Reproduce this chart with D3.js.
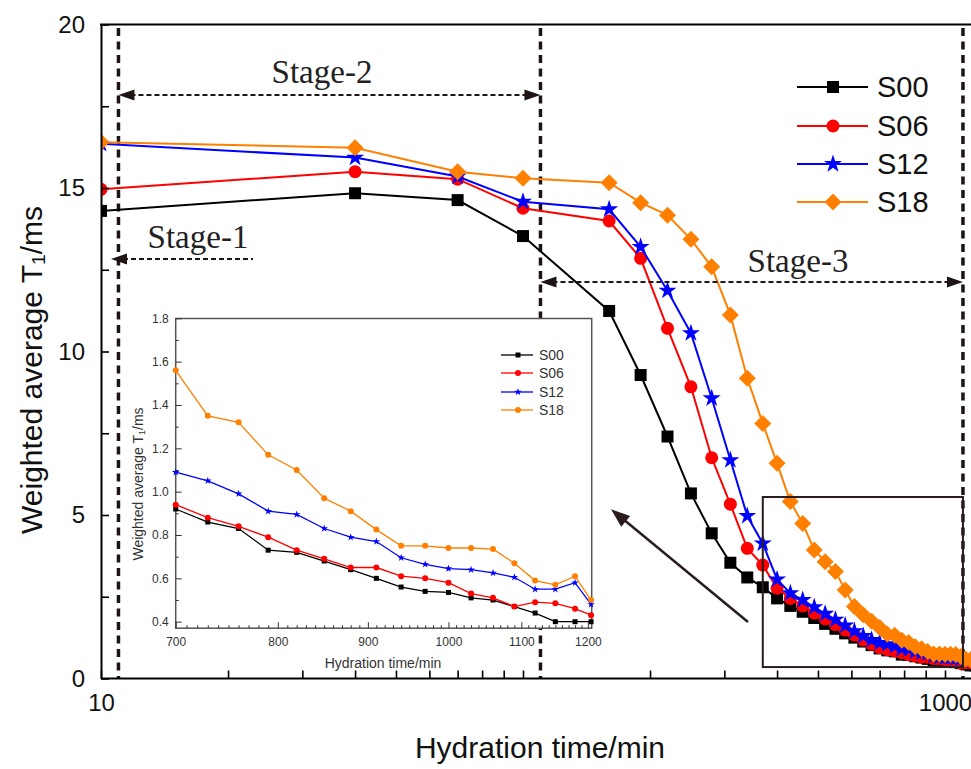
<!DOCTYPE html>
<html><head><meta charset="utf-8">
<script src="https://cdn.jsdelivr.net/npm/d3@7"></script>
<style>body{margin:0;background:#fff}svg{display:block}</style>
</head><body><svg id="c" width="971" height="769"></svg>
<script>
// ---------------- DATA ----------------
const times = [10,40,70,100,160,190,220,250,280,310,340,370,400,430,460,490,520,550,580,610,640,670,
  700,730,760,790,820,850,880,910,940,970,1000,1030,1060,1090,1120,1150,1180,1205];
const S00 = [14.30,14.84,14.63,13.53,11.24,9.28,7.40,5.66,4.44,3.54,3.09,2.79,2.45,2.22,2.04,1.85,1.67,1.52,1.38,1.25,1.13,1.02,
  0.92,0.86,0.83,0.73,0.72,0.68,0.64,0.60,0.56,0.54,0.535,0.51,0.50,0.47,0.44,0.40,0.40,0.40];
const S06 = [14.96,15.50,15.27,14.38,13.99,12.85,10.71,8.92,6.75,5.33,3.98,3.47,2.76,2.45,2.22,2.00,1.82,1.65,1.48,1.33,1.18,1.05,
  0.94,0.88,0.84,0.79,0.73,0.69,0.65,0.65,0.61,0.60,0.58,0.53,0.51,0.47,0.49,0.485,0.46,0.43];
const S12 = [16.35,15.93,15.35,14.58,14.35,13.20,11.86,10.56,8.57,6.68,4.97,4.13,3.03,2.61,2.40,2.18,1.98,1.80,1.62,1.45,1.30,1.18,
  1.09,1.05,0.99,0.91,0.895,0.83,0.79,0.77,0.695,0.665,0.645,0.64,0.625,0.605,0.55,0.55,0.58,0.48];
const S18 = [16.40,16.23,15.50,15.30,15.16,14.55,14.17,13.43,12.59,11.12,9.18,7.80,6.58,5.41,4.74,3.93,3.57,3.27,2.71,2.20,1.95,1.75,
  1.56,1.35,1.32,1.17,1.10,0.97,0.91,0.825,0.75,0.75,0.74,0.74,0.735,0.67,0.59,0.57,0.61,0.50];
const seriesNames = ["S00","S06","S12","S18"];
const seriesValues = [S00,S06,S12,S18];
const seriesColors = ["#000000","#FF0000","#0000FF","#FF8000"];
const mainShapes = ["square","circle","star","diamond"];
const insetShapes = ["square","circle","star","circle"];
const mainYTickLabels = [0,5,10,15,20];
const mainXTickLabels = [10,1000];
const stageLines = [11,110,1103];          // times of the dashed stage borders
const stageNames = ["Stage-1","Stage-2","Stage-3"];
const insetStart = 700;
const insetXTickLabels = [700,800,900,1000,1100,1200];
const insetYTickLabels = [0.4,0.6,0.8,1.0,1.2,1.4,1.6,1.8];
const zoomBox = {t0:370, t1:1103, v0:0.35, v1:5.55};

// ---------------- HELPERS ----------------
const svg = d3.select("#c");
const SANS = "'Liberation Sans', Arial, sans-serif";
const SERIF = "'Liberation Serif', 'Times New Roman', serif";
function marker(g, type, size, x, y, color){
  let p, rot = 0;
  if(type==="square") p = d3.symbol(d3.symbolSquare, size*size)();
  else if(type==="circle") p = d3.symbol(d3.symbolCircle, Math.PI*(size/2)*(size/2))();
  else if(type==="star") p = d3.symbol(d3.symbolStar, (size/2)*(size/2)/0.8908130915292852)();
  else { p = d3.symbol(d3.symbolSquare, (size/Math.SQRT2)*(size/Math.SQRT2))(); rot = 45; }
  g.append("path").attr("d", p).attr("fill", color)
    .attr("transform", `translate(${x},${y}) rotate(${rot})`);
}
const mainSizes = {square:12, circle:13, star:19, diamond:17};
const insetSizes = {square:5, circle:6, star:8, diamond:7};

// ---------------- MAIN CHART ----------------
const x = d3.scaleLog().domain([10,1000]).range([101,945]);
const y = d3.scaleLinear().domain([0,20]).range([678.5,24.5]);

svg.append("defs").append("clipPath").attr("id","mainClip")
  .append("rect").attr("x",101).attr("y",0).attr("width",870).attr("height",679);

// stage dashed verticals
stageLines.forEach(t=>{
  svg.append("line").attr("x1",x(t)).attr("x2",x(t)).attr("y1",28).attr("y2",678)
    .attr("stroke","#1e1414").attr("stroke-width",3.5).attr("stroke-dasharray","8,5.5");
});

// data
const plot = svg.append("g").attr("clip-path","url(#mainClip)");
const line = d3.line().x((d,i)=>x(times[i])).y(d=>y(d));
seriesValues.forEach((vals,k)=>{
  plot.append("path").attr("d", line(vals)).attr("fill","none")
    .attr("stroke", seriesColors[k]).attr("stroke-width",2);
  vals.forEach((v,i)=> marker(plot, mainShapes[k], mainSizes[mainShapes[k]], x(times[i]), y(v), seriesColors[k]));
});

// axes
const xMinor = [];
[10,100,1000].forEach(b=>{ for(let m=1;m<10;m++) xMinor.push(b*m); });
svg.append("g").attr("transform","translate(0,678.5)")
  .call(d3.axisBottom(x).tickValues(xMinor.filter(v=>x(v)<975)).tickSizeInner(-8).tickSizeOuter(0).tickPadding(15)
    .tickFormat(d=> mainXTickLabels.includes(d) ? d : ""))
  .call(g=>{ g.select(".domain").attr("d","M101,0H971").attr("stroke-width",2);
    g.selectAll(".tick line").attr("stroke-width",1.6);
    g.selectAll("text").attr("font-family",SANS).attr("font-size",24).attr("fill","#111"); });
svg.append("g").attr("transform","translate(101,0)")
  .call(d3.axisLeft(y).tickValues(d3.range(0,20.01,2.5)).tickSizeInner(-8).tickSizeOuter(0).tickPadding(16)
    .tickFormat(d=> mainYTickLabels.includes(d) ? d : ""))
  .call(g=>{ g.select(".domain").attr("stroke-width",2);
    g.selectAll(".tick line").attr("stroke-width",1.6);
    g.selectAll("text").attr("font-family",SANS).attr("font-size",24).attr("fill","#111"); });
svg.append("line").attr("x1",100).attr("x2",971).attr("y1",24.5).attr("y2",24.5)
  .attr("stroke","#000").attr("stroke-width",2);

// axis titles
svg.append("text").attr("x",540).attr("y",758).attr("text-anchor","middle")
  .attr("font-family",SANS).attr("font-size",30).attr("fill","#111").text("Hydration time/min");
const yt = svg.append("text").attr("transform","translate(42,370) rotate(-90)").attr("text-anchor","middle")
  .attr("font-family",SANS).attr("font-size",30).attr("fill","#111");
yt.append("tspan").text("Weighted average T");
yt.append("tspan").attr("font-size",19).attr("dy",3).text("1");
yt.append("tspan").attr("dy",-3).text("/ms");

// stage arrows
function arrowHead(xTip, yy, dir){ // dir -1 points left, +1 points right
  const L = 16, W = 5.5;
  svg.append("path").attr("d",`M${xTip},${yy}L${xTip-dir*L},${yy-W}L${xTip-dir*L},${yy+W}Z`).attr("fill","#1e1414");
}
function hArrow(x1, x2, yy, left, right){
  svg.append("line").attr("x1",x1+(left?12:0)).attr("x2",x2-(right?12:0)).attr("y1",yy).attr("y2",yy)
    .attr("stroke","#1e1414").attr("stroke-width",2).attr("stroke-dasharray","5,3");
  if(left) arrowHead(x1, yy, -1);
  if(right) arrowHead(x2, yy, 1);
}
hArrow(111, 253, 259, true, false);
hArrow(x(stageLines[0]), x(stageLines[1]), 95, true, true);
hArrow(x(stageLines[1]), x(stageLines[2]), 282, true, true);
const stagePos = [[198,248],[322,83],[798,272]];
stageNames.forEach((s,i)=>{
  svg.append("text").attr("x",stagePos[i][0]).attr("y",stagePos[i][1]).attr("text-anchor","middle")
    .attr("font-family",SERIF).attr("font-size",33).attr("fill","#222").text(s);
});

// legend
seriesNames.forEach((n,k)=>{
  const yy = [87,126,164,202][k];
  svg.append("line").attr("x1",797).attr("x2",868).attr("y1",yy).attr("y2",yy)
    .attr("stroke",seriesColors[k]).attr("stroke-width",2);
  marker(svg, mainShapes[k], mainSizes[mainShapes[k]], 833, yy, seriesColors[k]);
  svg.append("text").attr("x",877).attr("y",yy).attr("dy","0.36em")
    .attr("font-family",SANS).attr("font-size",29).attr("fill","#111").text(n);
});

// zoom box
svg.append("rect").attr("x",x(zoomBox.t0)).attr("y",y(zoomBox.v1))
  .attr("width",x(zoomBox.t1)-x(zoomBox.t0)).attr("height",y(zoomBox.v0)-y(zoomBox.v1))
  .attr("fill","none").attr("stroke","#2a1c1c").attr("stroke-width",2);

// pointer arrow
svg.append("line").attr("x1",748).attr("y1",622).attr("x2",620).attr("y2",516.5)
  .attr("stroke","#2a1c1c").attr("stroke-width",2.5);
(function(){
  const tx=611, ty=509.3, ang=Math.atan2(622-509.3, 748-611), L=19, W=7;
  const bx=tx+L*Math.cos(ang), by=ty+L*Math.sin(ang);
  const px=-Math.sin(ang)*W, py=Math.cos(ang)*W;
  svg.append("path").attr("d",`M${tx},${ty}L${bx+px},${by+py}L${bx-px},${by-py}Z`).attr("fill","#2a1c1c");
})();

// ---------------- INSET ----------------
const xi = d3.scaleLog().domain([700,1206]).range([175.7,591.7]);
const yi = d3.scaleLinear().domain([0.4,1.8]).range([621.7,318.3]);
const yBottom = yi(0.37);
const ins = svg.append("g");
ins.append("rect").attr("x",175.7).attr("y",318.5).attr("width",416).attr("height",yBottom-318.5)
  .attr("fill","#fff").attr("stroke","#555").attr("stroke-width",1.5);
const idx = times.map((t,i)=>i).filter(i=>times[i]>=insetStart);
seriesValues.forEach((vals,k)=>{
  const l = d3.line().x(i=>xi(times[i])).y(i=>yi(vals[i]));
  ins.append("path").attr("d", l(idx)).attr("fill","none").attr("stroke",seriesColors[k]).attr("stroke-width",1.3);
  idx.forEach(i=> marker(ins, insetShapes[k], insetSizes[insetShapes[k]], xi(times[i]), yi(vals[i]), seriesColors[k]));
});
ins.append("g").attr("transform",`translate(0,${yBottom})`)
  .call(d3.axisBottom(xi).tickValues(d3.range(700,1201,10)).tickSizeInner(-3).tickSizeOuter(0).tickPadding(9)
    .tickFormat(d=> insetXTickLabels.includes(d) ? d : ""))
  .call(g=>{ g.select(".domain").remove();
    g.selectAll(".tick line").attr("stroke","#333").attr("y2",d=> d%100===0 ? -6 : -3);
    g.selectAll("text").attr("font-family",SANS).attr("font-size",12).attr("fill","#333"); });
ins.append("g").attr("transform","translate(175.7,0)")
  .call(d3.axisLeft(yi).tickValues(d3.range(0.4,1.81,0.1).map(v=>+v.toFixed(1))).tickSizeInner(-4).tickSizeOuter(0).tickPadding(7)
    .tickFormat(d=> insetYTickLabels.some(v=>Math.abs(v-d)<1e-6) ? d3.format(".1f")(d) : ""))
  .call(g=>{ g.select(".domain").remove();
    g.selectAll(".tick line").attr("stroke","#333").attr("x2",d=> Math.round(d*10)%2===0 ? 6 : 3);
    g.selectAll("text").attr("font-family",SANS).attr("font-size",12).attr("fill","#333"); });
ins.append("text").attr("x",383).attr("y",668).attr("text-anchor","middle")
  .attr("font-family",SANS).attr("font-size",14).attr("fill","#333").text("Hydration time/min");
const iyt = ins.append("text").attr("transform","translate(143,484) rotate(-90)").attr("text-anchor","middle")
  .attr("font-family",SANS).attr("font-size",14).attr("fill","#333");
iyt.append("tspan").text("Weighted average T");
iyt.append("tspan").attr("font-size",9).attr("dy",2).text("1");
iyt.append("tspan").attr("dy",-2).text("/ms");
seriesNames.forEach((n,k)=>{
  const yy = [355,373,392,410][k];
  ins.append("line").attr("x1",501).attr("x2",533).attr("y1",yy).attr("y2",yy)
    .attr("stroke",seriesColors[k]).attr("stroke-width",1.3);
  marker(ins, insetShapes[k], insetSizes[insetShapes[k]], 518, yy, seriesColors[k]);
  ins.append("text").attr("x",539).attr("y",yy).attr("dy","0.36em")
    .attr("font-family",SANS).attr("font-size",14).attr("fill","#333").text(n);
});
</script></body></html>
